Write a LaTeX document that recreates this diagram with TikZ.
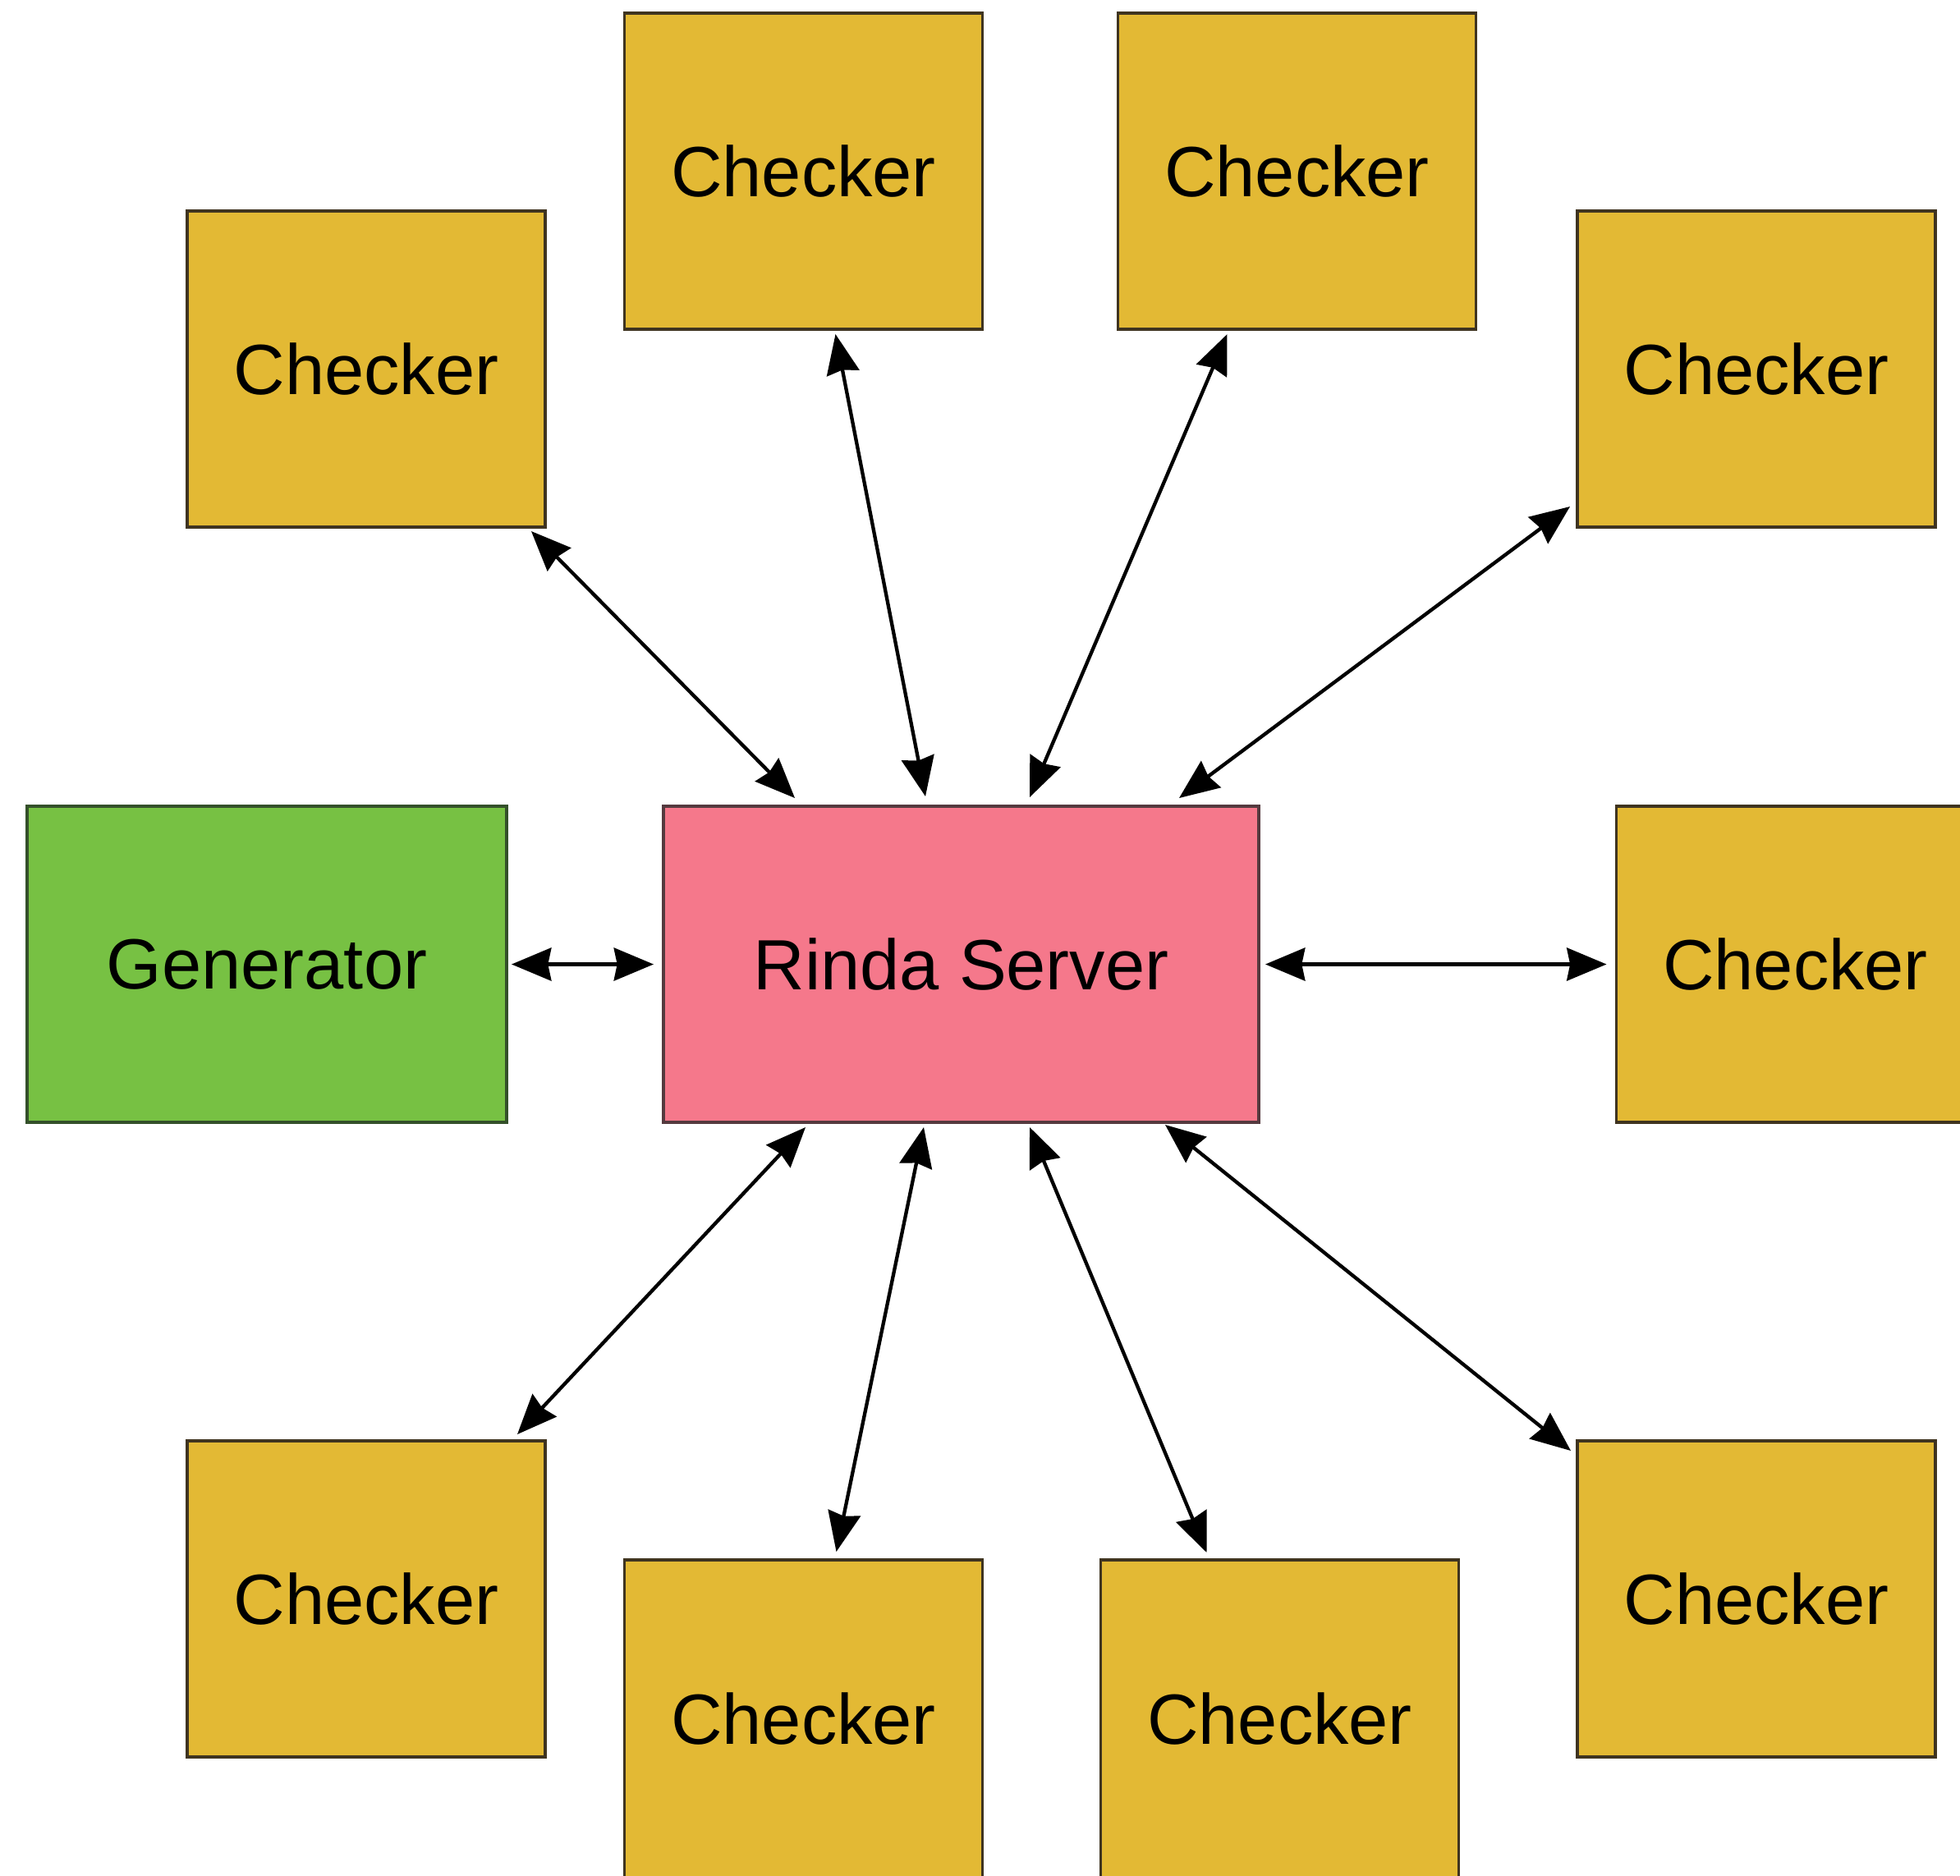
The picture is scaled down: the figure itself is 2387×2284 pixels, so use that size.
\documentclass[tikz,border=0pt]{standalone}
\usepackage{fontspec}
\setmainfont{Liberation Sans}
\usetikzlibrary{arrows.meta}
\definecolor{chkfill}{HTML}{E3B934}
\definecolor{chkdraw}{HTML}{3F3420}
\definecolor{genfill}{HTML}{77C143}
\definecolor{gendraw}{HTML}{34502A}
\definecolor{rinfill}{HTML}{F5788B}
\definecolor{rindraw}{HTML}{553A3F}
\tikzset{
  box/.style={draw, line width=1pt, inner sep=0pt, outer sep=0pt,
    minimum height=115.5pt, font=\fontsize{26}{30}\selectfont, text=black},
  checker/.style={box, fill=chkfill, draw=chkdraw, minimum width=130.8pt},
  gen/.style={box, fill=genfill, draw=gendraw, minimum width=175.2pt},
  rinda/.style={box, fill=rinfill, draw=rindraw, minimum width=217.5pt},
  tipshape/.tip={Stealth[length=14.5pt,width=12pt,inset=1.2pt]},
  link/.style={line width=1.3pt, black, tipshape-tipshape}
}
\begin{document}
\begin{tikzpicture}[x=0.3pt,y=-0.3pt]
\useasboundingbox[fill=white] (0,0) rectangle (2387,2284);
\node[checker] (tl)  at (446,449.5) {Checker};
\node[checker] (tml) at (978.5,208.5) {Checker};
\node[checker] (tmr) at (1579.5,208.5) {Checker};
\node[checker] (tr)  at (2139,449.5) {Checker};
\node[gen]     (gen) at (325,1174.5) {Generator};
\node[rinda]   (rs)  at (1170.5,1174.5) {Rinda Server};
\node[checker] (rt)  at (2186.5,1174.5) {Checker};
\node[checker] (bl)  at (446,1947.5) {Checker};
\node[checker, minimum height=116.1pt] (bml) at (978.5,2093.5) {Checker};
\node[checker, minimum height=116.1pt] (bmr) at (1558.5,2093.5) {Checker};
\node[checker] (br)  at (2139,1947.5) {Checker};

\draw[link] ([xshift=-5.1pt,yshift=-1.5pt]tl.south east) -- ([xshift=48pt,yshift=3pt]rs.north west);
\draw[link] ([xshift=77.1pt,yshift=-1.8pt]tml.south west) -- ([xshift=95.7pt,yshift=3.6pt]rs.north west);
\draw[link] ([xshift=39.9pt,yshift=-1.8pt]tmr.south west) -- ([xshift=133.8pt,yshift=3.3pt]rs.north west);
\draw[link] ([xshift=-2.7pt,yshift=7.5pt]tr.south west) -- ([xshift=188.4pt,yshift=3pt]rs.north west);
\draw[link] ([xshift=1.8pt]gen.east) -- ([xshift=-3.6pt]rs.west);
\draw[link] ([xshift=2.4pt]rs.east) -- ([xshift=-3.6pt]rt.west);
\draw[link] ([xshift=51.9pt,yshift=-1.8pt]rs.south west) -- ([xshift=-10.2pt,yshift=2.4pt]bl.north east);
\draw[link] ([xshift=95.1pt,yshift=-1.8pt]rs.south west) -- ([xshift=77.4pt,yshift=3pt]bml.north west);
\draw[link] ([xshift=133.8pt,yshift=-1.8pt]rs.south west) -- ([xshift=38.7pt,yshift=2.7pt]bmr.north west);
\draw[link] ([xshift=183.3pt,yshift=-0.9pt]rs.south west) -- ([xshift=-2.4pt,yshift=-3.6pt]br.north west);
\end{tikzpicture}
\end{document}
